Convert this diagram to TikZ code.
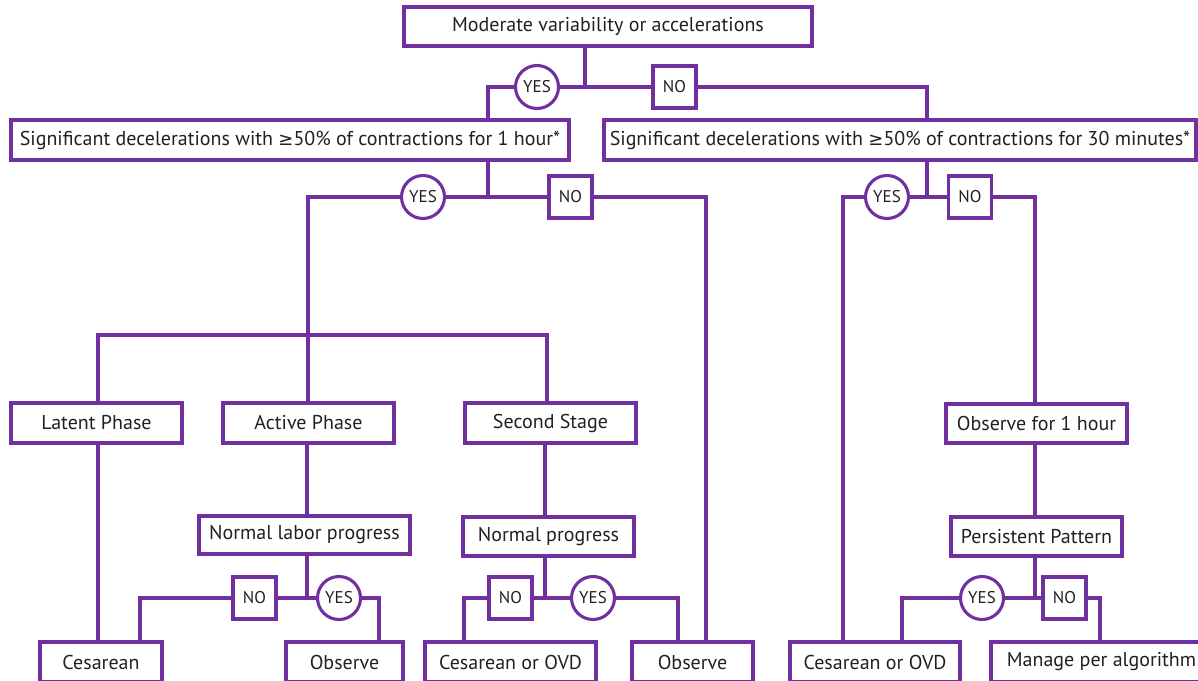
\documentclass[tikz,border=0pt]{standalone}
\usepackage{fontspec}
\setmainfont{PT Sans}
\newfontfamily\symfont{DejaVu Sans}
\newcommand{\mygeq}{{\symfont\fontsize{18}{20}\selectfont ≥}}
\definecolor{vio}{RGB}{112,48,160}
\definecolor{ink}{RGB}{35,31,32}
\begin{document}
\begin{tikzpicture}[x=1pt,y=-1pt,
  every node/.style={text=ink},
  box/.style={draw=vio,line width=3.1pt,rectangle,inner sep=0pt,font=\fontsize{20}{22}\selectfont},
  yesc/.style={draw=vio,line width=3.1pt,circle,inner sep=0pt,minimum size=43,font=\fontsize{17}{18}\selectfont},
  nob/.style={draw=vio,line width=3.1pt,rectangle,inner sep=0pt,minimum width=43,minimum height=42,font=\fontsize{17}{18}\selectfont},
  conn/.style={draw=vio,line width=3.1pt,line join=miter}]
\useasboundingbox (0,0) rectangle (1198,680);
\begin{scope}
\clip (0,0) rectangle (1198,680);
% boxes
\node[box,minimum width=408,minimum height=39] (top) at (608,26.5) {Moderate variability or accelerations};
\node[box,minimum width=558,minimum height=40] (sig1) at (290,140) {Significant decelerations with \mygeq50\% of contractions for 1 hour*};
\node[box,minimum width=592,minimum height=40] (sig30) at (900,140) {Significant decelerations with \mygeq50\% of contractions for 30 minutes*};
\node[box,minimum width=171,minimum height=40] (latent) at (96.5,423) {Latent Phase};
\node[box,minimum width=171,minimum height=40] (active) at (308.5,423) {Active Phase};
\node[box,minimum width=171,minimum height=40] (second) at (550.5,423) {Second Stage};
\node[box,minimum width=181,minimum height=39] (obs1h) at (1036.5,423.5) {Observe for 1 hour};
\node[box,minimum width=211,minimum height=38] (nlp) at (304.5,535) {Normal labor progress};
\node[box,minimum width=171,minimum height=39] (np) at (548.5,536.5) {Normal progress};
\node[box,minimum width=171,minimum height=39] (pp) at (1036.5,536.5) {Persistent Pattern};
\node[box,minimum width=122,minimum height=40] (ces1) at (101,662) {Cesarean};
\node[box,minimum width=117,minimum height=40] (obs1) at (344.5,662) {Observe};
\node[box,minimum width=171,minimum height=40] (cesovd1) at (510.5,662) {Cesarean or OVD};
\node[box,minimum width=121,minimum height=40] (obs2) at (692.5,662) {Observe};
\node[box,minimum width=170,minimum height=40] (cesovd2) at (875,662) {Cesarean or OVD};
\node[box,minimum width=221,minimum height=40] (manage) at (1101.5,662) {Manage per algorithm};
% yes / no markers
\node[yesc] (yes1) at (537,87) {YES};
\node[nob] (no1) at (674.5,87) {NO};
\node[yesc] (yes2) at (423,197) {YES};
\node[nob] (no2) at (570.5,197) {NO};
\node[yesc] (yes3) at (887,197) {YES};
\node[nob] (no3) at (970,197) {NO};
\node[nob] (no4) at (254.5,598) {NO};
\node[yesc] (yes4) at (339,598) {YES};
\node[nob] (no5) at (510.5,598) {NO};
\node[yesc] (yes5) at (593,598) {YES};
\node[yesc] (yes6) at (982,598) {YES};
\node[nob] (no6) at (1064.5,598) {NO};
% junctions and corners
\coordinate (j1) at (585,87);
\coordinate (k1) at (488,87);
\coordinate (k2) at (927,87);
\coordinate (j2) at (488,197);
\coordinate (k3) at (308,197);
\coordinate (k4) at (706,197);
\coordinate (j3) at (308,335);
\coordinate (k5) at (98,335);
\coordinate (k6) at (547,335);
\coordinate (j4) at (307,598);
\coordinate (k7) at (140,598);
\coordinate (k8) at (379,598);
\coordinate (j5) at (545,598);
\coordinate (k9) at (464,598);
\coordinate (k10) at (678,598);
\coordinate (j6) at (927,197);
\coordinate (k11) at (843,197);
\coordinate (k12) at (1035,197);
\coordinate (j7) at (1035,598);
\coordinate (k13) at (902,598);
\coordinate (k14) at (1100,598);
% connectors
\draw[conn] (top.south -| j1) -- (j1);
\draw[conn] (j1) -- (yes1.east);
\draw[conn] (yes1.west) -- (k1) -- (sig1.north -| k1);
\draw[conn] (j1) -- (no1.west);
\draw[conn] (no1.east) -- (k2) -- (sig30.north -| k2);
\draw[conn] (sig1.south -| j2) -- (j2);
\draw[conn] (j2) -- (yes2.east);
\draw[conn] (yes2.west) -- (k3) -- (j3);
\draw[conn] (j2) -- (no2.west);
\draw[conn] (no2.east) -- (k4) -- (obs2.north -| k4);
\draw[conn] (j3) -- (active.north -| j3);
\draw[conn] (j3) -- (k5) -- (latent.north -| k5);
\draw[conn] (j3) -- (k6) -- (second.north -| k6);
\draw[conn] (latent.south -| k5) -- (ces1.north -| k5);
\draw[conn] (active.south -| j4) -- (nlp.north -| j4);
\draw[conn] (nlp.south -| j4) -- (j4);
\draw[conn] (j4) -- (no4.east);
\draw[conn] (no4.west) -- (k7) -- (ces1.north -| k7);
\draw[conn] (j4) -- (yes4.west);
\draw[conn] (yes4.east) -- (k8) -- (obs1.north -| k8);
\draw[conn] (second.south -| j5) -- (np.north -| j5);
\draw[conn] (np.south -| j5) -- (j5);
\draw[conn] (j5) -- (no5.east);
\draw[conn] (no5.west) -- (k9) -- (cesovd1.north -| k9);
\draw[conn] (j5) -- (yes5.west);
\draw[conn] (yes5.east) -- (k10) -- (obs2.north -| k10);
\draw[conn] (sig30.south -| j6) -- (j6);
\draw[conn] (j6) -- (yes3.east);
\draw[conn] (yes3.west) -- (k11) -- (cesovd2.north -| k11);
\draw[conn] (j6) -- (no3.west);
\draw[conn] (no3.east) -- (k12) -- (obs1h.north -| k12);
\draw[conn] (obs1h.south -| k12) -- (pp.north -| k12);
\draw[conn] (pp.south -| j7) -- (j7);
\draw[conn] (j7) -- (yes6.east);
\draw[conn] (yes6.west) -- (k13) -- (cesovd2.north -| k13);
\draw[conn] (j7) -- (no6.west);
\draw[conn] (no6.east) -- (k14) -- (manage.north -| k14);
\end{scope}
\end{tikzpicture}
\end{document}
